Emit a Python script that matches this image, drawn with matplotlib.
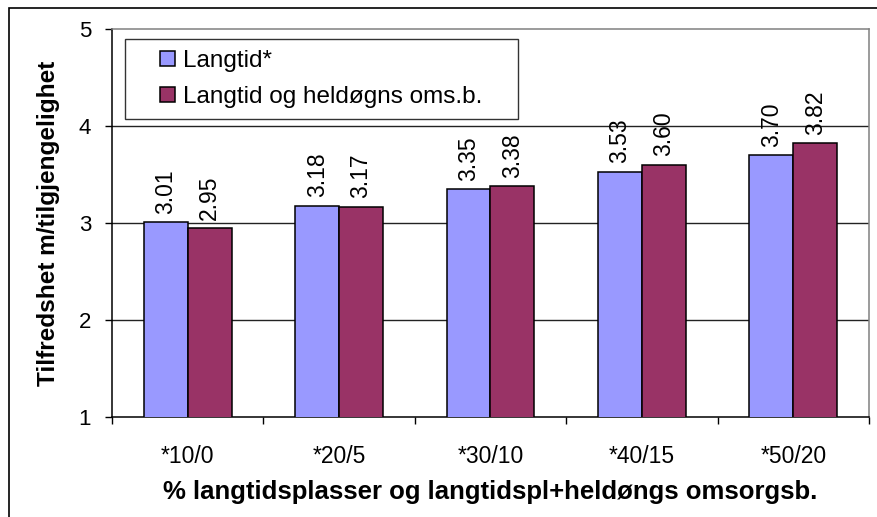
import matplotlib
matplotlib.use('Agg')
from matplotlib import pyplot as plt
from matplotlib.container import BarContainer
from matplotlib.legend_handler import HandlerPatch, update_from_first_child
from matplotlib.patches import Rectangle
import numpy as np

plt.rcParams['font.family'] = ['Liberation Sans', 'DejaVu Sans']

# data
categories = ['*10/0', '*20/5', '*30/10', '*40/15', '*50/20']
langtid = [3.01, 3.18, 3.35, 3.53, 3.70]
langtid_heldogns = [2.95, 3.17, 3.38, 3.60, 3.82]
series_names = ['Langtid*', 'Langtid og heldøgns oms.b.']
y_ticks = [1, 2, 3, 4, 5]

W, H = 878, 517
fig = plt.figure(figsize=(W / 100, H / 100), dpi=100)
ax = fig.add_axes([112 / W, 100 / H, 757 / W, 388 / H])

# outer chart border (left and top visible)
fig.patches.append(Rectangle((9 / W, -0.1), 1.2, (H - 8) / H + 0.1, transform=fig.transFigure,
                             fill=False, edgecolor='black', linewidth=1.2))

x = np.arange(len(categories))
width = 0.29
b1 = ax.bar(x - width / 2, langtid, width, color='#9999FF', edgecolor='black', linewidth=1.1,
            label=series_names[0], zorder=3)
b2 = ax.bar(x + width / 2, langtid_heldogns, width, color='#993366', edgecolor='black', linewidth=1.1,
            label=series_names[1], zorder=3)

for bars in (b1, b2):
    ax.bar_label(bars, fmt='%.2f', rotation=90, padding=6, fontsize=16.5)

ax.set_ylim(1, 5)
ax.set_xlim(-0.5, len(categories) - 0.5)
ax.set_yticks(y_ticks)
for v in y_ticks[1:-1]:
    ax.axhline(v, color='#222222', linewidth=1, zorder=1)

# spines
ax.spines['left'].set_color('black')
ax.spines['bottom'].set_color('black')
ax.spines['top'].set_color('#808080')
ax.spines['right'].set_color('#808080')
for s in ax.spines.values():
    s.set_linewidth(1.1)

ax.tick_params(axis='y', direction='out', length=5, width=1, pad=10, labelsize=16)
ax.set_xticks(x)
ax.set_xticklabels(categories)
ax.tick_params(axis='x', which='major', length=0, pad=20, labelsize=16.5)
ax.set_xticks(np.arange(-0.5, len(categories)), minor=True)
ax.tick_params(axis='x', which='minor', direction='out', length=5, width=1)

ax.set_ylabel('Tilfredshet m/tilgjengelighet', fontsize=17.6, fontweight='bold')
ax.yaxis.set_label_coords(-0.069, 0.5)
ax.set_xlabel('% langtidsplasser og langtidspl+heldøngs omsorgsb.', fontsize=18.5, fontweight='bold')
ax.xaxis.set_label_coords(0.5, -0.163)


# legend squares sit at the right end of the handle area
def square_patch(legend, orig_handle, xdescent, ydescent, width, height, fontsize):
    side = 10.5
    return Rectangle((width - xdescent - side, -ydescent + (height - side) / 2), side, side)


leg = ax.legend(handler_map={BarContainer: HandlerPatch(patch_func=square_patch,
                                                        update_func=update_from_first_child)},
                loc='upper left', bbox_to_anchor=(13 / 757, 0.7, 393 / 757, (417 - 39) / 388 - 0.7),
                mode='expand', borderaxespad=0,
                fontsize=17.5, frameon=True, fancybox=False, framealpha=1, borderpad=0.45,
                handlelength=1.61, handletextpad=0.33, labelspacing=0.57)
leg.get_frame().set_edgecolor('#333333')
leg.get_frame().set_linewidth(1)

fig.savefig('out.png', dpi=100)
